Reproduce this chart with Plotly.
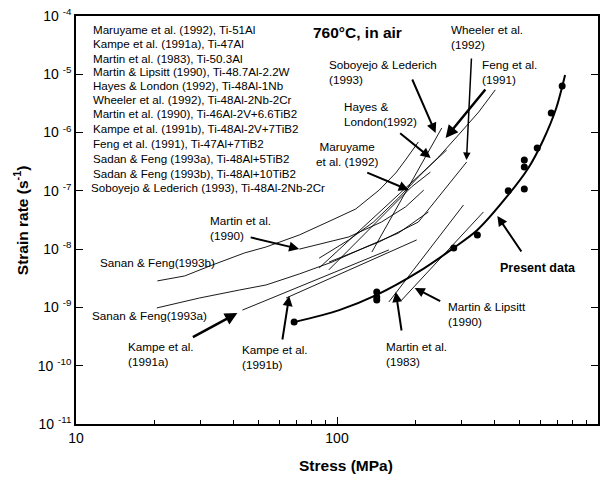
import plotly.graph_objects as go

# ---------------- data (stress MPa, strain rate 1/s) ----------------
maruyame_s = [93, 193, 228]
maruyame_r = [4.4e-9, 1.17e-7, 2.1e-7]

kampe_a_s = [43.4, 158]
kampe_a_r = [9.0e-10, 9.7e-9]

martin83_s = [158, 305]
martin83_r = [1.24e-9, 5.7e-8]

lipsitt_s = [177, 364]
lipsitt_r = [1.34e-9, 4.35e-8]

hayes_s = [85.4, 263]
hayes_r = [4.75e-9, 5.0e-7]

wheeler_s = [93.2, 145, 205, 314]
wheeler_r = [6.0e-9, 1.33e-8, 2.92e-8, 3.13e-7]

martin90_s = [71.7, 111, 148, 183, 215]
martin90_r = [1.0e-8, 1.62e-8, 2.92e-8, 5.3e-8, 1.03e-7]

kampe_b_s = [63.8, 202]
kampe_b_r = [1.45e-9, 1.44e-8]

feng_s = [85.4, 111, 138, 172, 205, 245, 292, 349, 404]
feng_r = [7.0e-9, 1.44e-8, 2.92e-8, 7.55e-8, 1.73e-7, 3.81e-7, 9.1e-7, 2.25e-6, 5.4e-6]

sadan_a_s = [20.4, 29.7, 42.3, 53.5, 71.7, 95.7, 129, 172, 224]
sadan_a_r = [9.8e-10, 1.45e-9, 1.99e-9, 2.43e-9, 3.75e-9, 6.0e-9, 1.09e-8, 1.89e-8, 4.35e-8]

sadan_b_s = [20.5, 26.1, 33.3, 44.2, 53.5, 71.7, 95.7, 118, 145, 168, 183, 205]
sadan_b_r = [2.85e-9, 3.47e-9, 5.35e-9, 8.6e-9, 1.09e-8, 1.75e-8, 3.16e-8, 4.89e-8, 1.03e-7, 2.03e-7, 3.39e-7, 6.9e-7]

soboyejo_s = [136, 252]
soboyejo_r = [8.9e-9, 1.2e-6]

present_s = [68.5, 142, 142, 142, 280, 345, 453, 522, 522, 522, 585, 662, 729]
present_r = [5.6e-10, 1.84e-9, 1.51e-9, 1.34e-9, 1.05e-8, 1.75e-8, 1.0e-7, 1.08e-7,
             2.57e-7, 3.39e-7, 5.43e-7, 2.17e-6, 6.3e-6]

fit_s = [68.5, 102, 142, 205, 280, 345, 453, 541, 617, 692, 748]
fit_r = [5.6e-10, 9.0e-10, 1.64e-9, 4.06e-9, 1.05e-8, 2.13e-8, 8.5e-8, 2.47e-7, 7.47e-7, 2.64e-6, 9.7e-6]

refs = ["Maruyame et al. (1992)", "Kampe et al. (1991a)", "Martin et al. (1983)",
        "Martin & Lipsitt (1990)", "Hayes & London (1992)", "Wheeler et al. (1992)",
        "Martin et al. (1990)", "Kampe et al. (1991b)", "Feng et al. (1991)",
        "Sadan & Feng (1993a)", "Sadan & Feng (1993b)", "Soboyejo & Lederich (1993)"]
alloys = ["Ti-51Al", "Ti-47Al", "Ti-50.3Al", "Ti-48.7Al-2.2W", "Ti-48Al-1Nb",
          "Ti-48Al-2Nb-2Cr", "Ti-46Al-2V+6.6TiB2", "Ti-48Al-2V+7TiB2", "Ti-47Al+7TiB2",
          "Ti-48Al+5TiB2", "Ti-48Al+10TiB2", "Ti-48Al-2Nb-2Cr"]

y_tick_vals = [1e-11, 1e-10, 1e-9, 1e-8, 1e-7, 1e-6, 1e-5, 1e-4]
y_tick_text = ["10 <sup>-11</sup>", "10 <sup>-10</sup>", "10 <sup>-9</sup>", "10 <sup>-8</sup>",
               "10 <sup>-7</sup>", "10 <sup>-6</sup>", "10 <sup>-5</sup>", "10 <sup>-4</sup>"]
x_tick_vals = [10, 100, 1000]
x_tick_text = ["10", "100", "1000"]

# ---------------- figure ----------------
W, H = 606, 478
ML, MR, MT, MB = 76, 6, 16, 54
PW, PH = W - ML - MR, H - MT - MB
FONT = "Liberation Sans, Arial, sans-serif"


def px(x, y):
    return (x - ML) / PW, (H - MB - y) / PH


fig = go.Figure()

series = [
    (maruyame_s, maruyame_r), (kampe_a_s, kampe_a_r), (martin83_s, martin83_r),
    (lipsitt_s, lipsitt_r), (hayes_s, hayes_r), (wheeler_s, wheeler_r),
    (martin90_s, martin90_r), (kampe_b_s, kampe_b_r), (feng_s, feng_r),
    (sadan_a_s, sadan_a_r), (sadan_b_s, sadan_b_r), (soboyejo_s, soboyejo_r),
]
for name, (s, r) in zip(refs, series):
    fig.add_trace(go.Scatter(x=s, y=r, mode="lines", name=name,
                             line=dict(color="black", width=0.9), showlegend=False))

fig.add_trace(go.Scatter(x=fit_s, y=fit_r, mode="lines", line=dict(color="black", width=2,
                         shape="spline", smoothing=0.8), showlegend=False))
fig.add_trace(go.Scatter(x=present_s, y=present_r, mode="markers",
                         marker=dict(color="black", size=7), showlegend=False))

ann = []
# reference list
list_y = [29, 44, 58.5, 72, 85.5, 99.5, 113.5, 128, 143, 158, 173, 188]
for i, (rf, al) in enumerate(zip(refs, alloys)):
    x, y = px(91 if i < 11 else 89, list_y[i])
    ann.append(dict(x=x, y=y, xref="paper", yref="paper", xanchor="left", yanchor="middle",
                    text=f"{rf}, {al}", showarrow=False, font=dict(size=11.6)))

# labels
labels = [
    ("Wheeler et al.<br>(1992)", 450, 37, "left", False),
    ("Feng et al.<br>(1991)", 482, 72, "left", False),
    ("Soboyejo & Lederich<br>(1993)", 328, 72, "left", False),
    ("Hayes &<br>London(1992)", 343, 114, "left", False),
    ("Maruyame<br>et al. (1992)", 348, 154, "center", False),
    ("Martin et al.<br>(1990)", 209, 228, "left", False),
    ("Sanan & Feng(1993b)", 98, 262, "left", False),
    ("Sanan & Feng(1993a)", 90, 315, "left", False),
    ("Kampe et al.<br>(1991a)", 126, 354, "left", False),
    ("Kampe et al.<br>(1991b)", 241, 357, "left", False),
    ("Martin et al.<br>(1983)", 385, 354, "left", False),
    ("Martin & Lipsitt<br>(1990)", 447, 314, "left", False),
    ("<b>Present data</b>", 500, 268, "left", True),
]
for txt, lx, ly, anchor, bold in labels:
    x, y = px(lx, ly)
    ann.append(dict(x=x, y=y, xref="paper", yref="paper", xanchor=anchor, yanchor="middle",
                    align=anchor, text=txt, showarrow=False,
                    font=dict(size=12.5 if bold else 11.7)))

x, y = px(312, 33)
ann.append(dict(x=x, y=y, xref="paper", yref="paper", xanchor="left", yanchor="middle",
                text="<b>760°C, in air</b>", showarrow=False, font=dict(size=15.5)))

# arrows: (tail x, tail y, head x, head y, width)
arrows = [
    (473, 57, 468, 160, 1.5), (488, 88, 447, 138, 2.5), (413, 78, 437, 133, 2),
    (400, 132, 432, 158, 2), (367, 172, 410, 190, 2), (250, 237, 300, 249, 2),
    (192, 338, 238, 313, 2.5), (283, 341, 290, 296, 2), (403, 332, 397, 292, 2),
    (443, 302, 416, 288, 2), (524, 253, 499, 216, 2),
]
for tx, ty, hx, hy, w in arrows:
    x, y = px(hx, hy)
    ann.append(dict(x=x, y=y, xref="paper", yref="paper", ax=tx - hx, ay=ty - hy,
                    text="", showarrow=True, arrowhead=2, arrowsize=1.0, arrowwidth=w,
                    arrowcolor="black", standoff=0, startstandoff=0))

# axis titles
x, y = px(347, 465)
ann.append(dict(x=x, y=y, xref="paper", yref="paper", xanchor="center", yanchor="middle",
                text="<b>Stress (MPa)</b>", showarrow=False, font=dict(size=15.5)))
x, y = px(21, 220)
ann.append(dict(x=x, y=y, xref="paper", yref="paper", xanchor="center", yanchor="middle",
                text="<b>Strain rate (s<sup>-1</sup>)</b>", textangle=-90, showarrow=False,
                font=dict(size=15.5)))

fig.update_layout(
    width=W, height=H,
    margin=dict(l=ML, r=MR, t=MT, b=MB),
    paper_bgcolor="white", plot_bgcolor="white",
    font=dict(family=FONT, color="black", size=12),
    showlegend=False,
    annotations=ann,
    xaxis=dict(type="log", range=[1, 3], tickvals=x_tick_vals, ticktext=x_tick_text,
               ticks="inside", ticklen=7, tickwidth=1.2, tickcolor="black",
               showline=True, linecolor="black", linewidth=1.5, mirror=True,
               showgrid=False, zeroline=False, tickfont=dict(size=14),
               minor=dict(ticks="inside", ticklen=4, tickcolor="black", showgrid=False,
                          tickvals=[20, 30, 40, 50, 60, 70, 80, 90,
                                    200, 300, 400, 500, 600, 700, 800, 900])),
    yaxis=dict(type="log", range=[-11, -4], tickvals=y_tick_vals, ticktext=y_tick_text,
               ticks="inside", ticklen=7, tickwidth=1.2, tickcolor="black",
               showline=True, linecolor="black", linewidth=1.5, mirror="ticks",
               showgrid=False, zeroline=False, tickfont=dict(size=14)),
)

fig.write_html("out.html")
